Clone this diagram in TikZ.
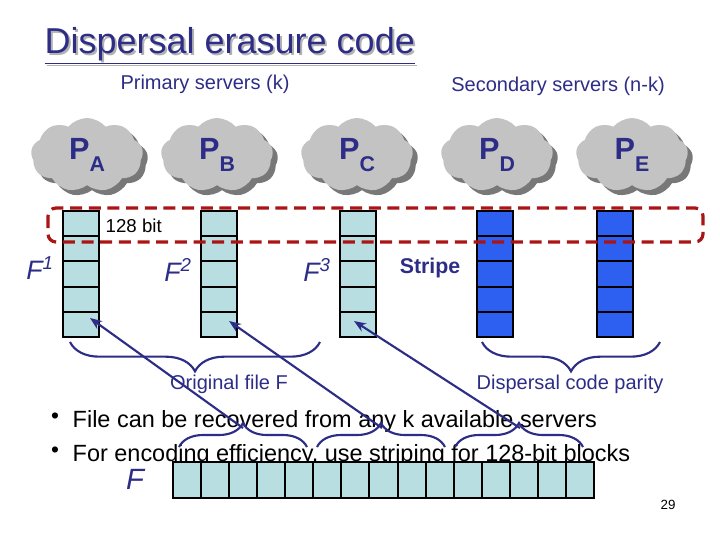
\documentclass[tikz,border=0pt]{standalone}
\usepackage{fontspec}
\setmainfont{Liberation Sans}
\usetikzlibrary{shapes.symbols,decorations.pathreplacing,arrows.meta}
\definecolor{dblue}{RGB}{45,45,135}
\definecolor{cell}{RGB}{185,222,226}
\definecolor{par}{RGB}{45,95,240}
\definecolor{dred}{RGB}{170,20,20}
\definecolor{cloudg}{RGB}{195,195,195}
\definecolor{clouds}{RGB}{120,120,120}
\begin{document}
\begin{tikzpicture}[x=0.75pt,y=-0.75pt,
  cl/.style={cloud,cloud puffs=9,cloud puff arc=100,aspect=1.6,minimum width=112*0.75pt,minimum height=74*0.75pt,fill=cloudg,draw=none,text=dblue,font=\fontsize{23}{24}\selectfont\bfseries},
  cellst/.style={draw=black,line width=1.5pt,fill=cell},
  brc/.style={dblue,line width=1.6pt,decorate,decoration={brace,amplitude=#1}},
  arr/.style={dblue,line width=1.6pt,-{Stealth[length=9pt,width=7pt]}},
  fl/.style={dblue,font=\fontsize{20}{22}\selectfont\itshape}]
\useasboundingbox (0,0) rectangle (720,540);
% title
\node[anchor=west,text=gray!60,font=\fontsize{27}{29}\selectfont] at (42,48) {\underline{Dispersal erasure code}};
\node[anchor=west,text=dblue,font=\fontsize{27}{29}\selectfont] (title) at (40,46) {\underline{Dispersal erasure code}};
\node[text=dblue,font=\fontsize{15}{17}\selectfont] (prim) at (205,84) {Primary servers (k)};
\node[text=dblue,font=\fontsize{15}{17}\selectfont] (sec) at (558,86) {Secondary servers (n-k)};
% clouds
\foreach \n/\x/\l in {a/87/A,b/217/B,c/357/C,d/497/D,e/632/E}{
  \node[cl,fill=clouds] at (\x+5,160) {};
  \node[cl] (cl\n) at (\x,155) {P\raisebox{-0.75ex}{\fontsize{16}{17}\selectfont\l}};
}
% columns
\foreach \x/\c in {63/cell,201/cell,340/cell,477/par,597/par}{
  \foreach \i in {0,...,4}{
    \draw[cellst,fill=\c] (\x,211+25.2*\i) rectangle (\x+36,236.2+25.2*\i);
  }
}
\draw[dred,line width=2.4pt,dash pattern=on 9pt off 5pt,rounded corners=6pt] (48,208) rectangle (703,242);
\node[anchor=west,font=\fontsize{14}{16}\selectfont] (bit) at (101,226) {128 bit};
\node[fl] (f1) at (40,268) {F\textsuperscript{1}};
\node[fl] (f2) at (178,270) {F\textsuperscript{2}};
\node[fl] (f3) at (317,270) {F\textsuperscript{3}};
\node[text=dblue,font=\fontsize{16}{18}\selectfont\bfseries] (stripe) at (430,268) {Stripe};
% big braces
\draw[brc=22] (320,342) -- (70,342);
\draw[brc=22] (660,342) -- (482,342);
\node[text=dblue,font=\fontsize{15}{17}\selectfont] (orig) at (229,384) {Original file F};
\node[text=dblue,font=\fontsize{15}{17}\selectfont] (disp) at (570,384) {Dispersal code parity};
% bullets
\node[anchor=west,font=\fontsize{17.6}{19}\selectfont] (b1) at (68,421) {File can be recovered from any k available servers};
\node[anchor=west,font=\fontsize{17.6}{19}\selectfont] (b2) at (68,455) {For encoding efficiency, use striping for 128-bit blocks};
\node[font=\fontsize{17}{18}\selectfont] at (55,418) {\textbullet};
\node[font=\fontsize{17}{18}\selectfont] at (55,452) {\textbullet};
% strip
\foreach \i in {0,...,14}{
  \draw[cellst] (173+28.07*\i,462) rectangle (173+28.07*\i+28.07,498);
}
\node[fl,font=\fontsize{22}{24}\selectfont\itshape] (F) at (135,479) {F};
% small braces
\coordinate (t1) at (243,428);
\coordinate (t2) at (382,428);
\coordinate (t3) at (520,428);
\draw[brc=18] (179,447) -- (307,447);
\draw[brc=18] (317,447) -- (445,447);
\draw[brc=18] (455,447) -- (583,447);
\coordinate (h1) at (90,318);
\coordinate (h2) at (229,321);
\coordinate (h3) at (354,321);
\draw[arr] (t1) -- (h1);
\draw[arr] (t2) -- (h2);
\draw[arr] (t3) -- (h3);
\node[font=\fontsize{10}{12}\selectfont] (pg) at (668,505) {29};
\end{tikzpicture}
\end{document}
